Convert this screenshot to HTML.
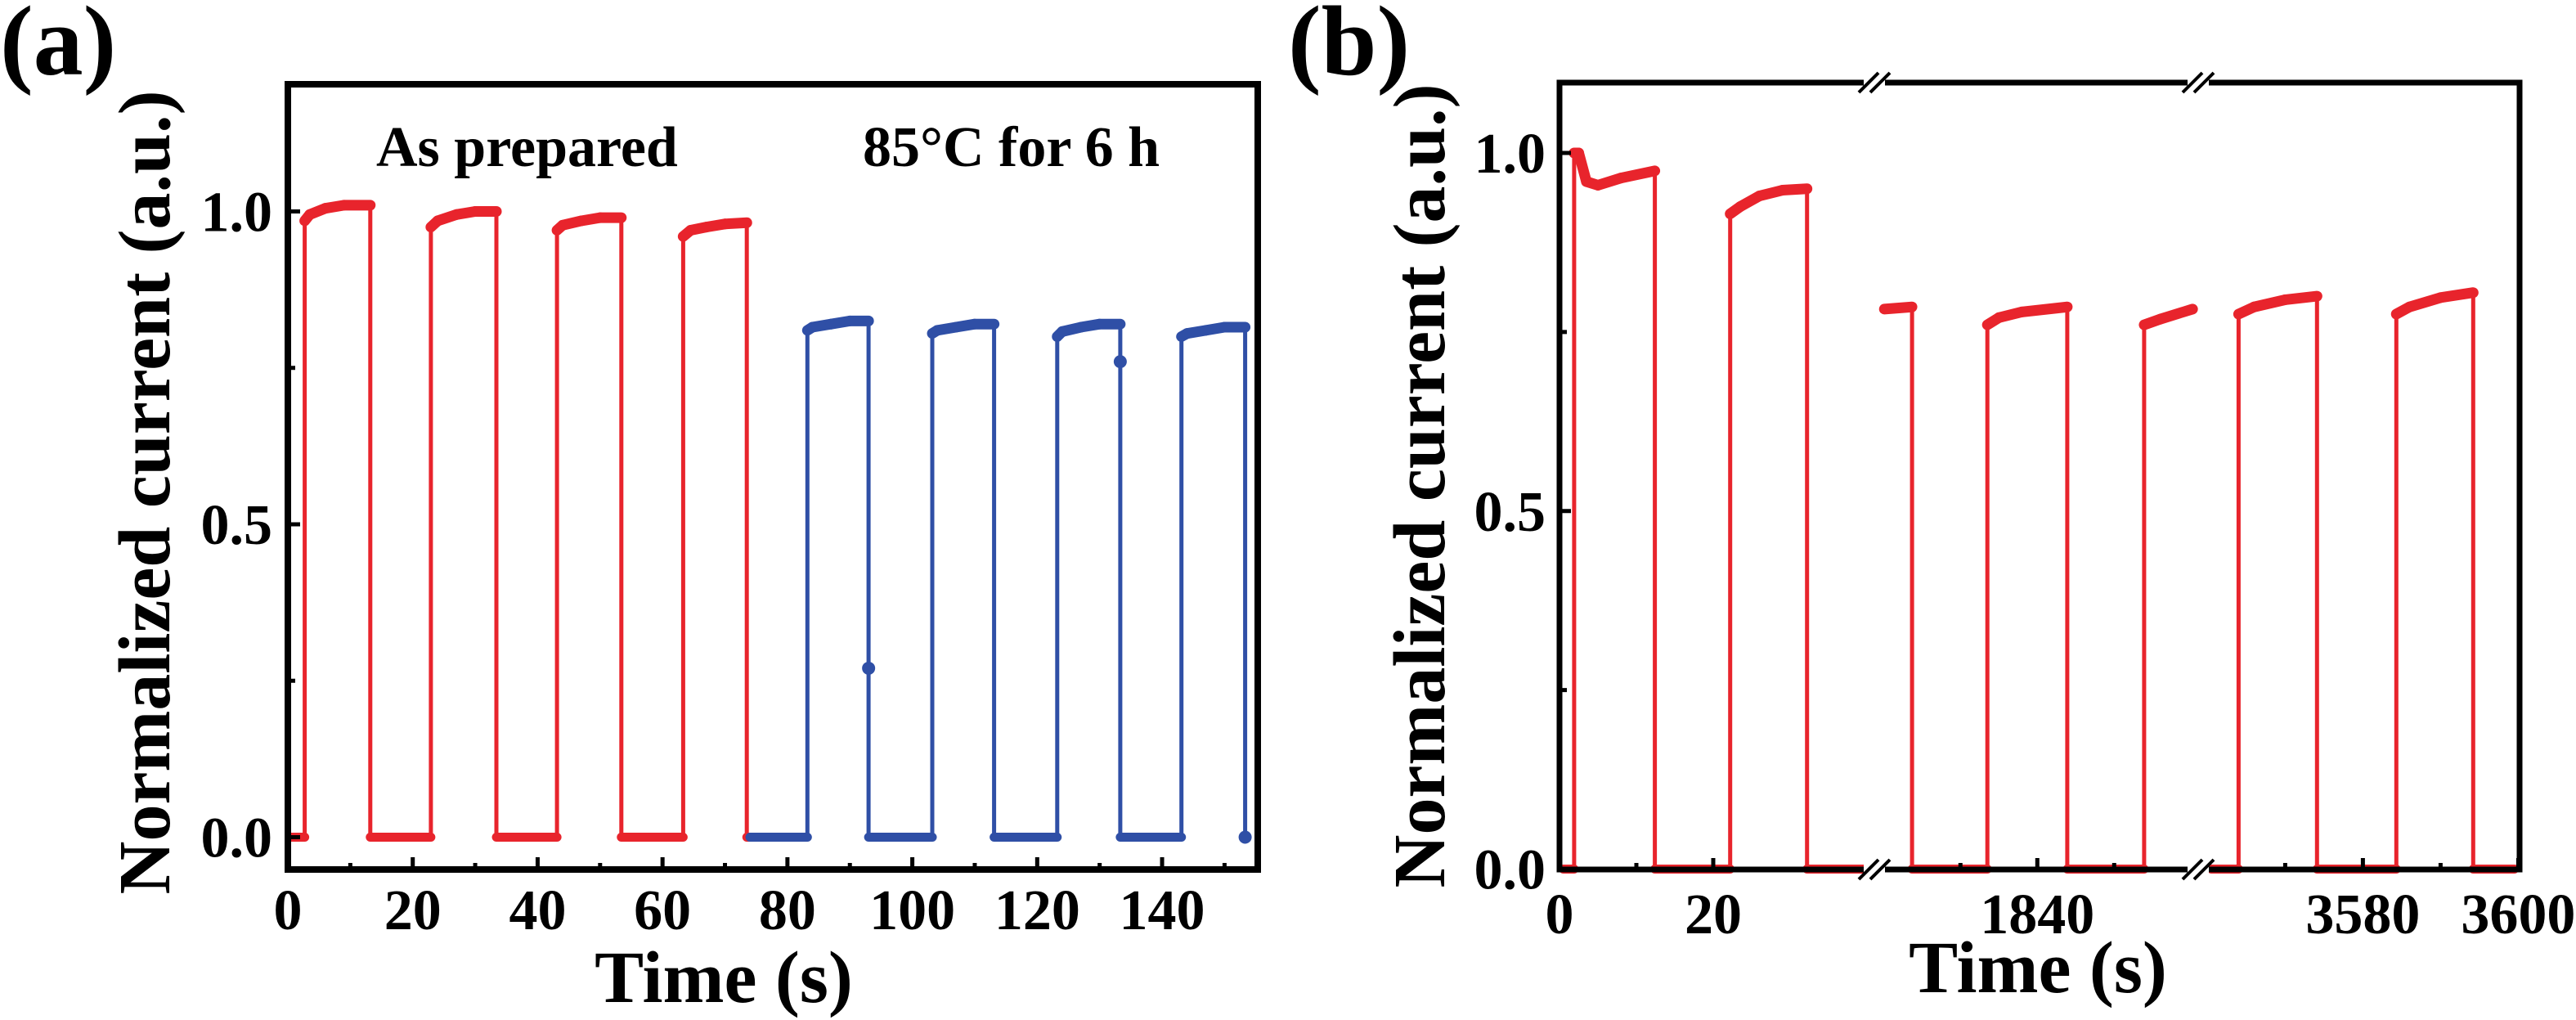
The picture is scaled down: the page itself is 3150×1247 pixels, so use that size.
<!DOCTYPE html>
<html><head><meta charset="utf-8">
<style>
html,body{margin:0;padding:0;background:#fff;}
svg{display:block;}
text{font-family:"Liberation Serif",serif;font-weight:bold;fill:#000;}
</style></head>
<body>
<svg id="fig" width="3150" height="1247" viewBox="0 0 3150 1247" xmlns="http://www.w3.org/2000/svg">
  <g id="pa"></g>
  <g id="pb"></g>
</svg>
<script>
// ---------- Panel (a) data ----------
const aRedT = [0.5,2.7,2.7,3.5,6,9,13.2,13.2,22.9,22.9,24,27,30,33.4,33.4,43.1,43.1,44,47,50,53.4,53.4,63.3,63.3,64.5,67,70,73.5,73.5,74];
const aRedV = [0,0,0.985,0.995,1.005,1.01,1.01,0,0,0.975,0.985,0.995,1.0,1.0,0,0,0.97,0.978,0.985,0.99,0.99,0,0,0.96,0.97,0.975,0.98,0.982,0,0];
const aBlueT = [74,83.2,83.2,84,87,90,93,93,93,103.2,103.2,104,107,110,113.1,113.1,123.2,123.2,124,127,130,133.3,133.3,133.3,143.1,143.1,144,147,150,153.3,153.3];
const aBlueV = [0,0,0.81,0.815,0.82,0.825,0.825,0.27,0,0,0.805,0.81,0.815,0.82,0.82,0,0,0.80,0.808,0.815,0.82,0.82,0.76,0,0,0.80,0.805,0.81,0.815,0.815,0];
const aDotT = [93,133.3,153.3];
const aDotV = [0.27,0.76,0];
const aXTicks = [0,20,40,60,80,100,120,140];
const aYTicks = [0,0.5,1.0];
const aYTickLabels = ["0.0","0.5","1.0"];

// ---------- Panel (b) data ----------
const bSeg1T = [0.5,1.9,1.9,2.5,3.5,5,8,12.4,12.4,22.2,22.2,23.5,26,29,32.2,32.2,32.2,39.7];
const bSeg1V = [0,0,1.0,1.0,0.96,0.955,0.965,0.975,0,0,0.915,0.925,0.94,0.948,0.95,0.93,0,0];
const bSeg2T = [1820.1,1823.7,1823.7,1823.7,1833.5,1833.5,1835,1838,1843.9,1843.9,1853.9,1853.9,1856,1860.2];
const bSeg2V = [0.782,0.785,0.745,0,0,0.76,0.77,0.778,0.785,0,0,0.76,0.768,0.782];
const bSeg3T = [3560.5,3564,3564,3566,3570,3574.1,3574.1,3584.3,3584.3,3586,3590,3594.2,3594.2,3599.5];
const bSeg3V = [0,0,0.775,0.785,0.795,0.80,0,0,0.775,0.785,0.798,0.805,0,0];
const bXTicks = [0,20,1840,3580,3600];
const bXTickLabels = ["0","20","1840","3580","3600"];
const bYTicks = [0,0.5,1.0];
const bYTickLabels = ["0.0","0.5","1.0"];

const NS = "http://www.w3.org/2000/svg";
function mk(parent, tag, attrs, txt){
  const e = document.createElementNS(NS, tag);
  for (const k in attrs) e.setAttribute(k, attrs[k]);
  if (txt !== undefined) e.textContent = txt;
  parent.appendChild(e);
  return e;
}
const RED = "#e8242c", BLUE = "#2f4fa6";

// axis functions
const xa = t => 352 + t * 7.636;
const ya = v => 1023.5 - v * 765;
function xb(t){
  if (t < 100) return 1907 + t * 9.4;
  if (t < 2000) return 2292 + (t - 1818.8) * 9.4;
  return 2688 + (t - 3558.8) * 9.5;
}
const yb = v => 1062.5 - v * 875.5;

function drawTrace(g, T, V, fx, fy, color, name){
  const pts = T.map((t,i)=>fx(t).toFixed(1)+","+fy(V[i]).toFixed(1)).join(" ");
  const pl = mk(g, "polyline", {points:pts, fill:"none", stroke:color, "stroke-width":5, "stroke-linejoin":"round"});
  
  
  for (let i=1;i<T.length;i++){
    if (T[i] !== T[i-1] && V[i] > 0.01){
      const s = mk(g, "line", {x1:fx(T[i-1]), y1:fy(V[i-1]), x2:fx(T[i]), y2:fy(V[i]), stroke:color, "stroke-width":13, "stroke-linecap":"round"});
      
      
    } else if (T[i] !== T[i-1]) {
      const s = mk(g, "line", {x1:fx(T[i-1]), y1:fy(V[i-1]), x2:fx(T[i]), y2:fy(V[i]), stroke:color, "stroke-width":11, "stroke-linecap":"round"});
      
      
    }
  }
}

// ---------- Panel (a) ----------
(function(){
  const g = document.getElementById("pa");
  drawTrace(g, aRedT, aRedV, xa, ya, RED, "as-prepared");
  drawTrace(g, aBlueT, aBlueV, xa, ya, BLUE, "annealed-85c");
  aDotT.forEach((t,i)=>{
    const c = mk(g, "circle", {cx:xa(t), cy:ya(aDotV[i]), r:8, fill:BLUE});
    
    
  });
  const fr = mk(g, "rect", {x:352, y:103, width:1186, height:960, fill:"none", stroke:"#000", "stroke-width":8});
  
  
  aXTicks.forEach(t=>{
    const tk = mk(g, "line", {x1:xa(t), y1:1063, x2:xa(t), y2:1048, stroke:"#000", "stroke-width":5});
    
    
    const mt = mk(g, "line", {x1:xa(t+10), y1:1063, x2:xa(t+10), y2:1055, stroke:"#000", "stroke-width":5});
    
    
    const lb = mk(g, "text", {x:xa(t), y:1136, "font-size":70, "text-anchor":"middle"}, String(t));
    
    
  });
  aYTicks.forEach((v,i)=>{
    const tk = mk(g, "line", {x1:352, y1:ya(v), x2:367, y2:ya(v), stroke:"#000", "stroke-width":5});
    
    
    const lb = mk(g, "text", {x:333, y:ya(v)+24, "font-size":70, "text-anchor":"end"}, aYTickLabels[i]);
    
    
  });
  [0.25,0.75].forEach(v=>{
    const mt = mk(g, "line", {x1:352, y1:ya(v), x2:361, y2:ya(v), stroke:"#000", "stroke-width":5});
    
    
  });
  const xt = mk(g, "text", {x:885, y:1225, "font-size":90, "text-anchor":"middle"}, "Time (s)");
  
  
  const yt = mk(g, "text", {x:0, y:0, "font-size":90, "text-anchor":"middle", transform:"translate(207,602) rotate(-90)"}, "Normalized current (a.u.)");
  
  
  const l1 = mk(g, "text", {x:460, y:203, "font-size":70}, "As prepared");
  
  
  const l2 = mk(g, "text", {x:1055, y:203, "font-size":70}, "85°C for 6 h");
  
  
  const pl = mk(g, "text", {x:0, y:91, "font-size":122}, "(a)");
  
  
})();

// ---------- Panel (b) ----------
(function(){
  const g = document.getElementById("pb");
  drawTrace(g, bSeg1T, bSeg1V, xb, yb, RED, "segment-1");
  drawTrace(g, bSeg2T, bSeg2V, xb, yb, RED, "segment-2");
  drawTrace(g, bSeg3T, bSeg3V, xb, yb, RED, "segment-3");
  const fr = mk(g, "rect", {x:1907, y:101, width:1174, height:962, fill:"none", stroke:"#000", "stroke-width":7});
  
  
  [2292,2688].forEach(x=>{
    [101,1063].forEach(y=>{
      const gap = mk(g, "rect", {x:x-13, y:y-8, width:26, height:16, fill:"#fff"});
      
      
      [-7,7].forEach(d=>{
        const s = mk(g, "line", {x1:x+d-12, y1:y+12, x2:x+d+12, y2:y-12, stroke:"#000", "stroke-width":4});
        
        
      });
    });
  });
  bXTicks.forEach((t,i)=>{
    const tk = mk(g, "line", {x1:xb(t), y1:1063, x2:xb(t), y2:1049, stroke:"#000", "stroke-width":5});
    
    
    const lb = mk(g, "text", {x:xb(t), y:1141, "font-size":70, "text-anchor":"middle"}, bXTickLabels[i]);
    
    
  });
  [10,1830,1850,3570,3590].forEach(t=>{
    const mt = mk(g, "line", {x1:xb(t), y1:1063, x2:xb(t), y2:1055, stroke:"#000", "stroke-width":5});
    
    
  });
  bYTicks.forEach((v,i)=>{
    const tk = mk(g, "line", {x1:1907, y1:yb(v), x2:1921, y2:yb(v), stroke:"#000", "stroke-width":5});
    
    
    const lb = mk(g, "text", {x:1890, y:yb(v)+24, "font-size":70, "text-anchor":"end"}, bYTickLabels[i]);
    
    
  });
  [0.25,0.75].forEach(v=>{
    const mt = mk(g, "line", {x1:1907, y1:yb(v), x2:1916, y2:yb(v), stroke:"#000", "stroke-width":5});
    
    
  });
  const xt = mk(g, "text", {x:2492, y:1213, "font-size":90, "text-anchor":"middle"}, "Time (s)");
  
  
  const yt = mk(g, "text", {x:0, y:0, "font-size":90, "text-anchor":"middle", transform:"translate(1766,594) rotate(-90)"}, "Normalized current (a.u.)");
  
  
  const pl = mk(g, "text", {x:1575, y:91, "font-size":122}, "(b)");
  
  
})();
</script>
</body></html>
